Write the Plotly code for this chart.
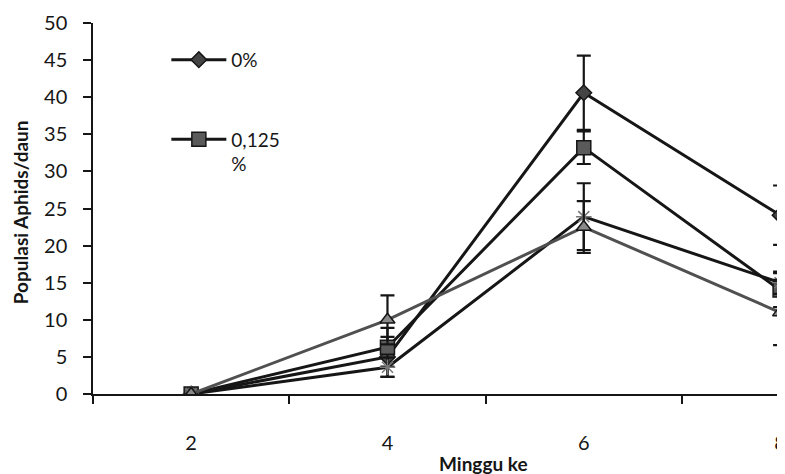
import plotly.graph_objects as go

weeks = [2, 4, 6, 8]
tick_labels = ["2", "4", "6", "8"]

s0_name = "0%"
s0_vals = [0, 5.0, 40.6, 24.1]
s0_err = [0, 2.7, 5.0, 4.0]

s1_name = "0,125<br>%"
s1_vals = [0, 6.3, 33.2, 14.0]
s1_err = [0, 2.6, 2.2, 2.3]

s2_name = "s3"
s2_vals = [0, 3.6, 23.9, 15.0]
s2_err = [0, 1.3, 4.5, 1.5]

s3_name = "s4"
s3_vals = [0, 10.0, 22.5, 11.0]
s3_err = [0, 3.3, 3.5, 4.4]

FONT = "Lato, 'Open Sans', sans-serif"
INK = "#161616"

fig = go.Figure()

def add(name, vals, err, symbol, size, fill, lcolor, show, legendgroup):
    fig.add_trace(go.Scatter(
        x=weeks, y=vals, name=name, mode="lines+markers",
        line=dict(color=lcolor, width=3),
        marker=dict(symbol=symbol, size=size, color=fill,
                    line=dict(color=INK, width=1.5)),
        error_y=dict(type="data", array=err, visible=True,
                     color=INK, thickness=2.2, width=7),
        showlegend=show, legendgroup=legendgroup,
    ))

add(s0_name, s0_vals, s0_err, "diamond", 12, "#444444", INK, True, "a")
add(s1_name, s1_vals, s1_err, "square", 14, "#5a5a5a", INK, True, "b")
add(s2_name, s2_vals, s2_err, "asterisk-open", 13, "#777777", INK, False, "c")
add(s3_name, s3_vals, s3_err, "triangle-up", 13, "#8a8a8a", "#505050", False, "d")

# page body has an 8px margin, so the figure is 8px smaller than the window
fig.update_layout(
    width=777, height=466,
    margin=dict(l=85, r=0, t=15, b=80, autoexpand=False),
    paper_bgcolor="white", plot_bgcolor="white",
    font=dict(family=FONT, size=20, color=INK),
    showlegend=True,
    legend=dict(x=0.106, y=0.952, xanchor="left", yanchor="top",
                bgcolor="rgba(0,0,0,0)", font=dict(size=19, family=FONT, color=INK),
                traceorder="grouped", tracegroupgap=52, valign="top",
                itemwidth=55),
    xaxis=dict(range=[1, 8.05], tickvals=weeks, ticktext=tick_labels,
               ticks="", showgrid=False, zeroline=False, automargin=False,
               showline=True, linecolor=INK, linewidth=1.5,
               ticklabelstandoff=30, ticklabeloverflow="allow",
               minor=dict(tick0=1, dtick=2, ticks="outside", ticklen=8,
                          tickwidth=1.5, tickcolor=INK, showgrid=False),
               tickfont=dict(size=20, family=FONT, color=INK)),
    yaxis=dict(range=[0, 50], tickvals=[0, 5, 10, 15, 20, 25, 30, 35, 40, 45, 50],
               ticks="outside", ticklen=8, tickwidth=1.5, tickcolor=INK,
               showgrid=False, zeroline=False, automargin=False,
               showline=True, linecolor=INK, linewidth=1.5,
               ticklabelstandoff=12, ticklabeloverflow="allow",
               tickfont=dict(size=20, family=FONT, color=INK)),
    annotations=[
        dict(text="<b>Populasi Aphids/daun</b>", xref="paper", yref="paper",
             x=-0.1055, y=0.49, textangle=-90, showarrow=False,
             xanchor="center", yanchor="middle",
             font=dict(size=19, family=FONT, color=INK)),
        dict(text="<b>Minggu ke</b>", xref="paper", yref="paper",
             x=0.5636, y=-0.186, showarrow=False,
             xanchor="center", yanchor="middle",
             font=dict(size=19, family=FONT, color=INK)),
    ],
)

fig.write_html("out.html")
